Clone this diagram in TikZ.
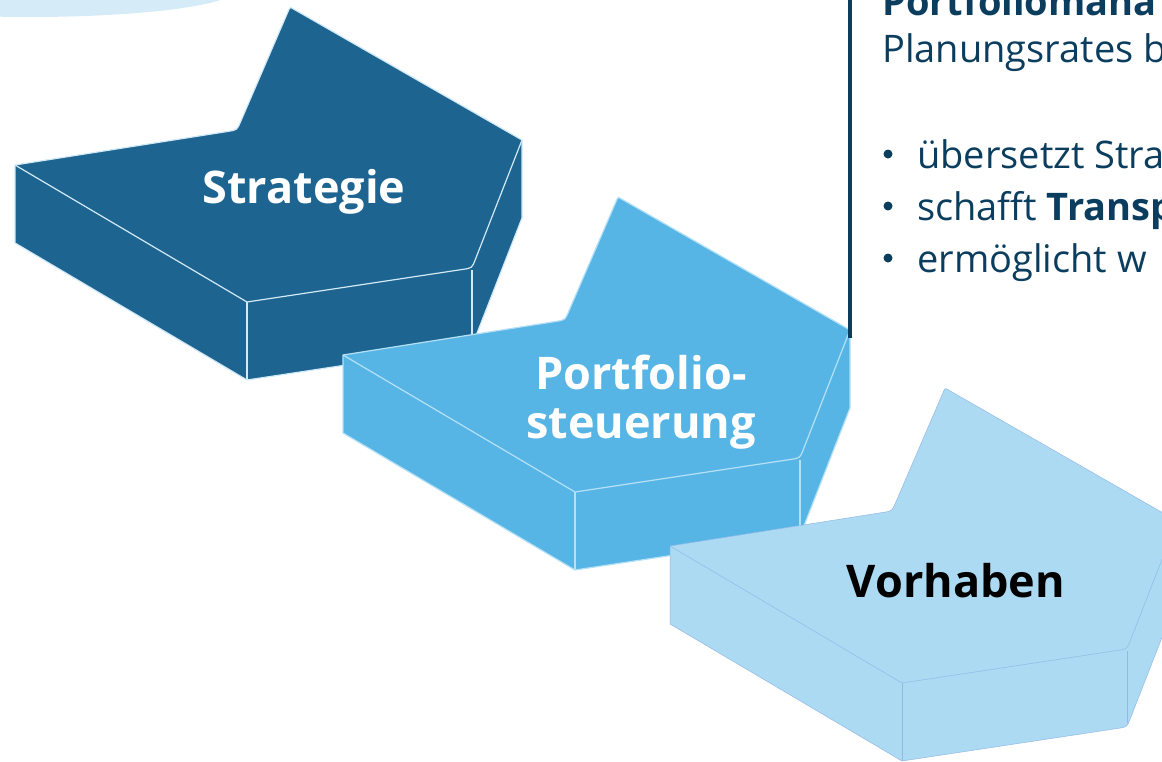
\documentclass[tikz,border=0pt]{standalone}
\usepackage{fontspec}
\setmainfont{Open Sans}
\usetikzlibrary{calc}
\definecolor{stratcol}{HTML}{1D6590}
\definecolor{portcol}{HTML}{57B5E5}
\definecolor{vorcol}{HTML}{ABDAF2}
\definecolor{ellcol}{HTML}{D5ECF8}
\definecolor{navy}{HTML}{0B3D5E}
\definecolor{stratedge}{HTML}{D2EAF7}
\definecolor{portedge}{HTML}{B5E1F6}
\definecolor{voredge}{HTML}{93B8E8}
\newcommand\isoblock[5]{%
\begin{scope}[shift={#2}]
\coordinate (#1L) at (15,165);
\coordinate (#1N) at (237,130);
\coordinate (#1T) at (290,7);
\coordinate (#1R) at (522,140);
\coordinate (#1B) at (472,268);
\coordinate (#1F) at (247,302);
\coordinate (#1Rd) at (522,218);
\coordinate (#1Bd) at (472,346);
\coordinate (#1Fd) at (247,380);
\coordinate (#1Ld) at (15,243);
\filldraw[fill=#3, draw=#4, line width=#5, line join=round]
 (#1L) -- ($(#1N)!9pt!(#1L)$) .. controls (#1N) .. ($(#1N)!9pt!(#1T)$)
 -- ($(#1T)!4pt!(#1N)$) .. controls (#1T) .. ($(#1T)!4pt!(#1R)$)
 -- (#1R) -- (#1Rd) -- ($(#1Bd)!9pt!(#1Rd)$) .. controls (#1Bd) .. ($(#1Bd)!9pt!(#1Fd)$)
 -- (#1Fd) -- (#1Ld) -- cycle;
\draw[draw=#4, line width=#5, line join=round] (#1L) -- (#1F) -- ($(#1B)!9pt!(#1F)$) .. controls (#1B) .. ($(#1B)!9pt!(#1R)$) -- (#1R);
\draw[draw=#4, line width=#5] (#1F) -- (#1Fd);
\draw[draw=#4, line width=#5] ($(#1B)+(0,2)$) -- ($(#1Bd)+(0,-4)$);
\end{scope}}
\tikzset{
  blocklabel/.style={font=\fontsize{45}{50}\selectfont\bfseries, align=center, inner sep=0pt},
  paneltext/.style={font=\fontsize{38}{44}\selectfont, text=navy, anchor=base west, inner sep=0pt},
  bulletdot/.style={circle, fill=navy, inner sep=0pt, minimum size=9pt}
}
\begin{document}
\begin{tikzpicture}[x=1pt,y=-1pt]
\useasboundingbox (0,0) rectangle (1162,761);
\clip (0,0) rectangle (1162,761);
\fill[ellcol] (30,-10) ellipse [x radius=205, y radius=27];
\isoblock{s}{(0,0)}{stratcol}{stratedge}{1.2pt}
\isoblock{p}{(328,190)}{portcol}{portedge}{1.2pt}
\isoblock{v}{(655,381)}{vorcol}{voredge}{0.5pt}
\node[blocklabel, text=white, anchor=base] (strat) at (304,203) {Strategie};
\node[blocklabel, text=white, anchor=base] (port1) at (641,389) {Portfolio-};
\node[blocklabel, text=white, anchor=base] (port2) at (641,438) {steuerung};
\node[blocklabel, text=black, anchor=base] (vor) at (956,597) {Vorhaben};
\fill[navy] (848,0) rectangle (852,338);
\node[paneltext, font=\fontsize{38}{44}\selectfont\bfseries] (t1) at (882,15) {Portfoliomana};
\node[paneltext] (t2) at (882,62) {Planungsrates b};
\node[bulletdot] (b1) at (888,154) {};
\node[paneltext] (t3) at (917,168) {übersetzt Stra};
\node[bulletdot] (b2) at (888,206) {};
\node[paneltext] (t4) at (917,220) {schafft \textbf{Transp}};
\node[bulletdot] (b3) at (888,258) {};
\node[paneltext] (t5) at (917,272) {ermöglicht w};
\end{tikzpicture}
\end{document}
